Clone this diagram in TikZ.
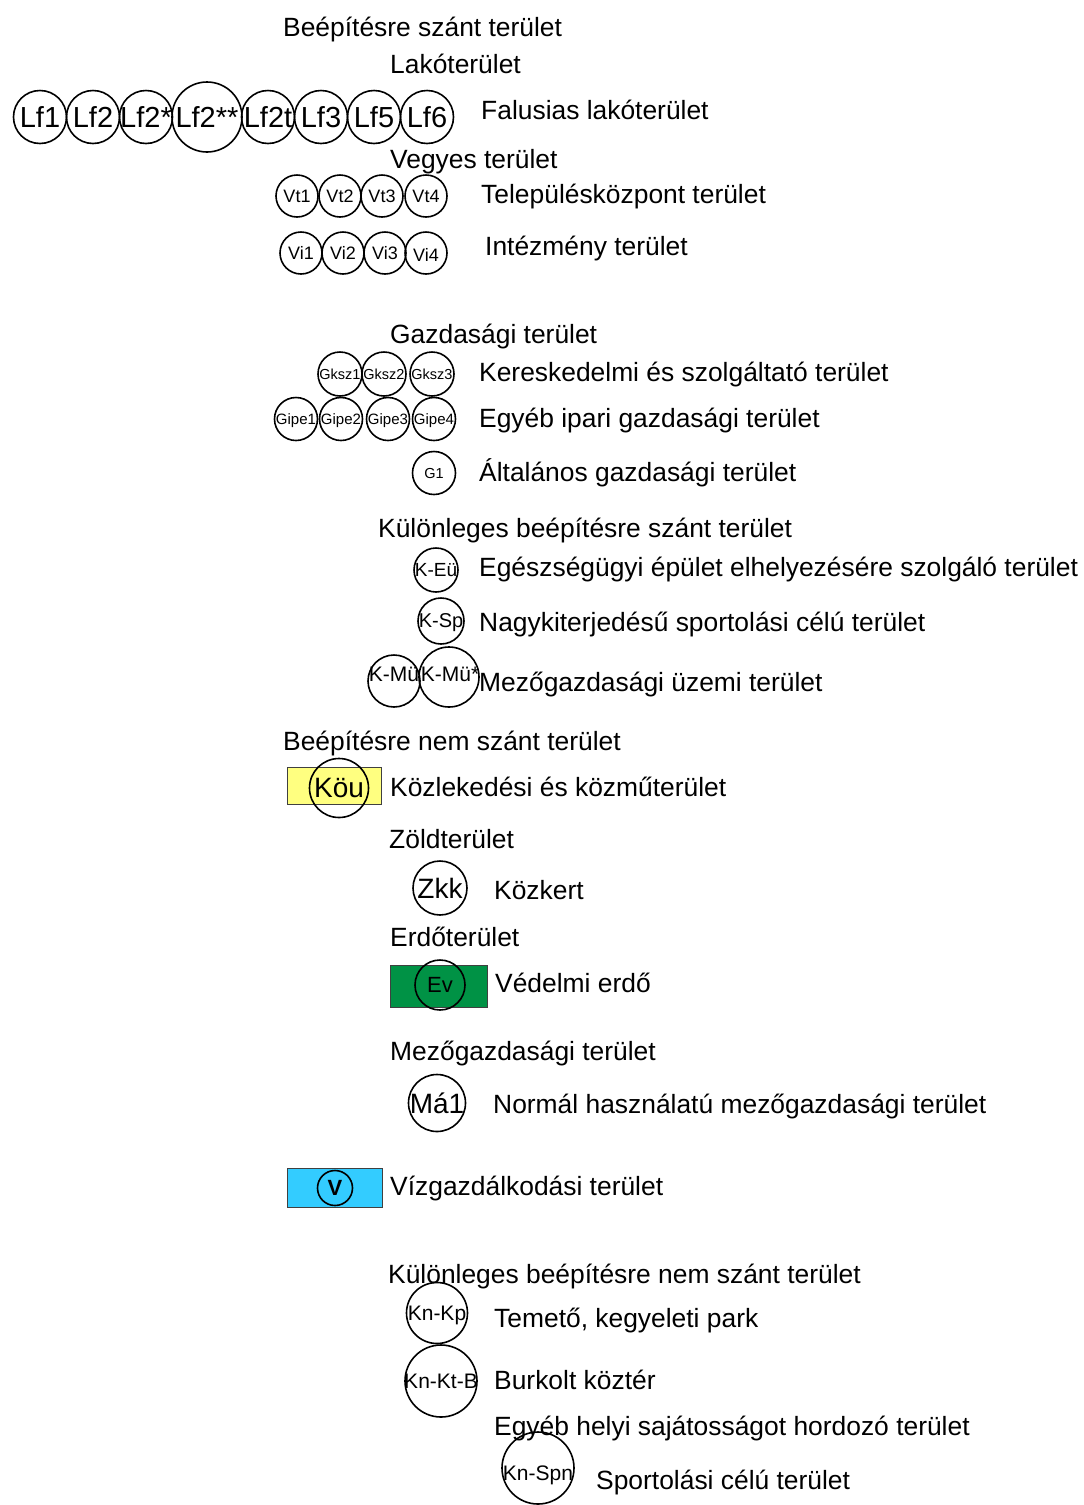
\documentclass[tikz,border=0pt]{standalone}
\usepackage{fontspec}
\setmainfont{Liberation Sans}
\definecolor{kyellow}{RGB}{255,255,128}
\definecolor{kgreen}{RGB}{0,146,69}
\definecolor{kblue}{RGB}{51,204,255}
\begin{document}
\begin{tikzpicture}[x=1pt,y=-1pt,
  txt/.style={anchor=base west, inner sep=0pt, font=\fontsize{26.4}{30}\selectfont},
  cc/.style={circle, draw, line width=1.6pt, inner sep=0pt, minimum size=#1},
  lab/.style={inner sep=0pt, text depth=0pt, font=\fontsize{#1}{#1}\selectfont},
  box/.style={draw=black!75, line width=1pt}]
\useasboundingbox (0,0) rectangle (1084,1505);

% ---------- headings and descriptions ----------
\node[txt] (h1) at (283,36) {Beépítésre szánt terület};
\node[txt] (h2) at (390,73) {Lakóterület};
\node[txt] (d1) at (481,119) {Falusias lakóterület};
\node[txt] (h3) at (390,168) {Vegyes terület};
\node[txt] (d2) at (481,203) {Településközpont terület};
\node[txt] (d3) at (485,255) {Intézmény terület};
\node[txt] (h4) at (390,343) {Gazdasági terület};
\node[txt] (d4) at (479,381) {Kereskedelmi és szolgáltató terület};
\node[txt] (d5) at (479,427) {Egyéb ipari gazdasági terület};
\node[txt] (d6) at (479,481) {Általános gazdasági terület};
\node[txt] (h5) at (378,537) {Különleges beépítésre szánt terület};
\node[txt] (d7) at (479,576) {Egészségügyi épület elhelyezésére szolgáló terület};
\node[txt] (d8) at (479,631) {Nagykiterjedésű sportolási célú terület};
\node[txt] (d9) at (479,691) {Mezőgazdasági üzemi terület};
\node[txt] (h6) at (283,750) {Beépítésre nem szánt terület};
\node[txt] (d10) at (390,796) {Közlekedési és közműterület};
\node[txt] (h7) at (389,848) {Zöldterület};
\node[txt] (d11) at (494,899) {Közkert};
\node[txt] (h8) at (390,946) {Erdőterület};
\node[txt] (d12) at (495,992) {Védelmi erdő};
\node[txt] (h9) at (390,1060) {Mezőgazdasági terület};
\node[txt] (d13) at (493,1113) {Normál használatú mezőgazdasági terület};
\node[txt] (d14) at (390,1195) {Vízgazdálkodási terület};
\node[txt] (h10) at (388,1283) {Különleges beépítésre nem szánt terület};
\node[txt] (d15) at (494,1327) {Temető, kegyeleti park};
\node[txt] (d16) at (494,1389) {Burkolt köztér};
\node[txt] (h11) at (494,1435) {Egyéb helyi sajátosságot hordozó terület};
\node[txt] (d17) at (596,1489) {Sportolási célú terület};

% ---------- Lf row ----------
\foreach \nm/\x/\s/\t in {lfa/40/53/Lf1, lfb/93/53/Lf2, lfc/146/53/Lf2*, lfd/207/70/Lf2**, lfe/268/53/Lf2t, lff/321/53/Lf3, lfg/374/53/Lf5, lfh/427/53/Lf6}{
  \node[cc=\s] (\nm) at (\x,117) {};
  \node[lab=29] (\nm t) at (\nm.center) {\t};
}

% ---------- Vt / Vi rows ----------
\foreach \nm/\x/\t in {vta/297/Vt1, vtb/340/Vt2, vtc/382/Vt3, vtd/426/Vt4}{
  \node[cc=42] (\nm) at (\x,196) {};
  \node[lab=18] (\nm t) at (\nm.center) {\t};
}
\foreach \nm/\x/\t/\dy in {via/301/Vi1/0, vib/343/Vi2/0, vic/385/Vi3/0, vid/426/Vi4/2}{
  \node[cc=42] (\nm) at (\x,253) {};
  \node[lab=18] (\nm t) at ([yshift=-\dy pt]\nm.center) {\t};
}

% ---------- Gksz / Gipe / G1 ----------
\foreach \nm/\x/\t in {gka/340/Gksz1, gkb/384/Gksz2, gkc/432/Gksz3}{
  \node[cc=44] (\nm) at (\x,374) {};
  \node[lab=14.5] (\nm t) at (\nm.center) {\t};
}
\foreach \nm/\x/\t in {gia/296/Gipe1, gib/341/Gipe2, gic/388/Gipe3, gid/434/Gipe4}{
  \node[cc=43] (\nm) at (\x,419) {};
  \node[lab=15] (\nm t) at (\nm.center) {\t};
}
\node[cc=43] (g1) at (434,473) {};
\node[lab=14.5] (g1t) at (g1.center) {G1};

% ---------- K codes ----------
\node[cc=44] (keu) at (436,570) {};
\node[lab=19] (keut) at (keu.center) {K-Eü};
\node[cc=46] (ksp) at (441,621) {};
\node[lab=20] (kspt) at (ksp.center) {K-Sp};
\node[cc=52] (kmu) at (394,681) {};
\node[lab=21] (kmut) at (394,674) {K-Mü};
\node[cc=60] (kmus) at (449,677) {};
\node[lab=21] (kmust) at (450,674) {K-Mü*};

% ---------- Köu ----------
\draw[box, fill=kyellow] (287,767) rectangle (381,804);
\node[cc=59] (kou) at (339,788) {};
\node[lab=28] (kout) at (kou.center) {Köu};

% ---------- Zkk ----------
\node[cc=54] (zkk) at (440,888) {};
\node[lab=28] (zkkt) at (zkk.center) {Zkk};

% ---------- Ev ----------
\draw[box, fill=kgreen] (390,965) rectangle (487,1007);
\node[cc=50] (ev) at (440,985) {};
\node[lab=22] (evt) at (ev.center) {Ev};

% ---------- Má1 ----------
\node[cc=57] (ma1) at (437,1103) {};
\node[lab=28] (ma1t) at (ma1.center) {Má1};

% ---------- V ----------
\draw[box, fill=kblue] (287,1168) rectangle (382,1207);
\node[cc=35] (v) at (335,1188) {};
\node[lab=22, font=\fontsize{22}{22}\selectfont\bfseries] (vt) at (v.center) {V};

% ---------- Kn codes ----------
\node[cc=61] (knkp) at (437,1313) {};
\node[lab=21] (knkpt) at (knkp.center) {Kn-Kp};
\node[cc=72] (knkt) at (441,1381) {};
\node[lab=21] (knktt) at (knkt.center) {Kn-Kt-B};
\node[cc=72] (knsp) at (538,1468) {};
\node[lab=21] (knspt) at (538,1473) {Kn-Spn};
\end{tikzpicture}
\end{document}
